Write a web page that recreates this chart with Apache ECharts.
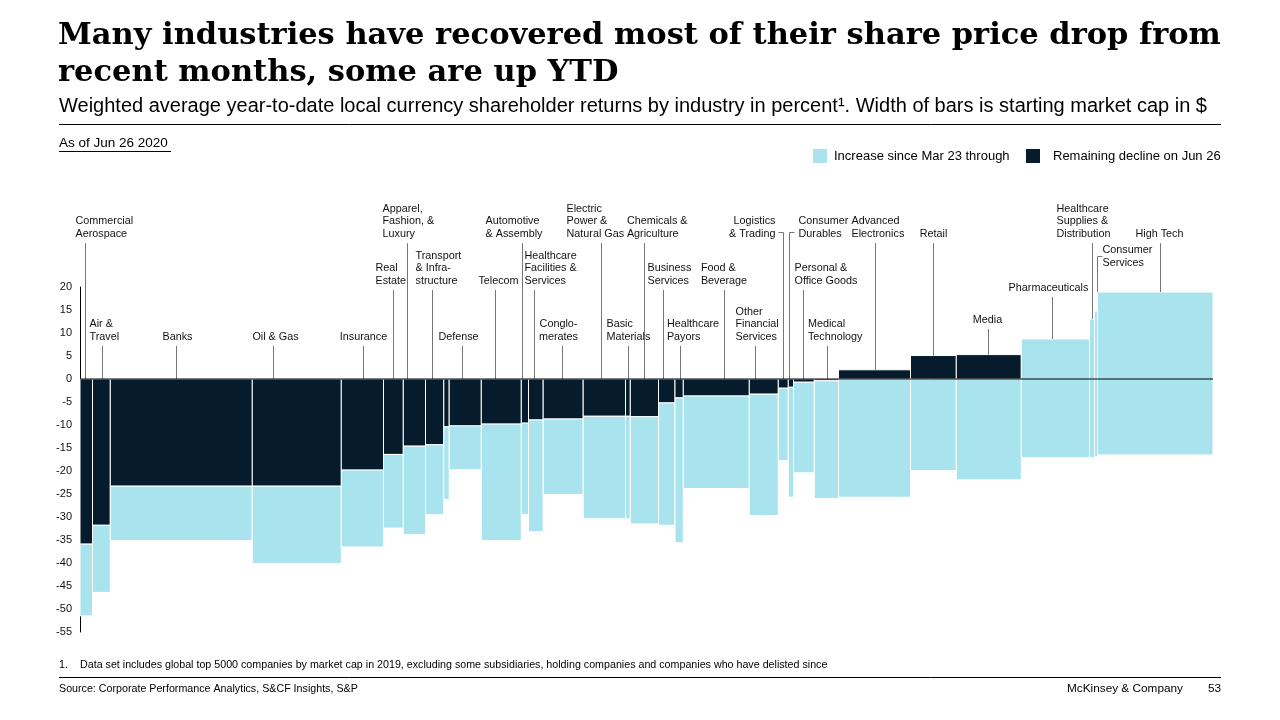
<!DOCTYPE html>
<html>
<head>
<meta charset="utf-8">
<script src="https://cdn.jsdelivr.net/npm/echarts@6/dist/echarts.min.js"></script>
<style>
html,body{margin:0;padding:0;background:#fff;}
#chart{width:1280px;height:720px;}
</style>
</head>
<body>
<div id="chart"></div>
<script>
// ---------------- DATA ----------------
const categories = [
  'Commercial\nAerospace','Air &\nTravel','Banks','Oil & Gas','Insurance','Real\nEstate',
  'Apparel,\nFashion, &\nLuxury','Transport\n& Infra-\nstructure','','Defense','Telecom',
  'Automotive\n& Assembly','Healthcare\nFacilities &\nServices','Conglo-\nmerates',
  'Electric\nPower &\nNatural Gas','Basic\nMaterials','Chemicals &\nAgriculture',
  'Business\nServices','Healthcare\nPayors','Food &\nBeverage','Other\nFinancial\nServices',
  'Logistics\n& Trading','Consumer\nDurables','Personal &\nOffice Goods','Medical\nTechnology',
  'Advanced\nElectronics','Retail','Media','Pharmaceuticals',
  'Healthcare\nSupplies &\nDistribution','Consumer\nServices','High Tech'
];
// starting market cap (relative width of bars)
const marketCap = [12.5,17.8,142,89,42.2,19.8,22.2,18.3,5.4,32.1,40,7.2,14.7,40,42.3,4.8,28.2,16.5,8.3,66,29,10,5.2,20.8,24.2,72,45.8,65,68.2,5,3,115.5];
// YTD shareholder return on Jun 26 (%)
const returnJun26 = [-35.9,-31.8,-23.3,-23.3,-19.8,-16.4,-14.6,-14.3,-10.4,-10.2,-9.8,-9.6,-8.9,-8.7,-8.1,-8.1,-8.2,-5.2,-4.1,-3.7,-3.3,-2.0,-1.8,-0.7,-0.4,2.0,5.1,5.3,8.7,13.0,14.8,18.9];
// YTD shareholder return at the Mar 23 low (%)
const returnMar23 = [-51.5,-46.4,-35.1,-40.1,-36.5,-32.4,-33.8,-29.5,-26.2,-19.7,-35.1,-29.5,-33.2,-25.1,-30.4,-30.4,-31.5,-31.8,-35.6,-23.8,-29.7,-17.7,-25.7,-20.4,-26.0,-25.7,-19.9,-21.9,-17.1,-17.1,-16.9,-16.5];
const yTickLabels = ['20','15','10','5','0','-5','-10','-15','-20','-25','-30','-35','-40','-45','-50','-55'];

// ---------------- LAYOUT / STYLE ----------------
const DARK = '#061c2c', LIGHT = '#a9e4ee';
const darkAbove = categories.map((c,i)=> i===25||i===26||i===27);
// label layout: row = y (axis units) of last text line, frac = leader position within bar, dx = text offset (px)
const rA = 9.13, rB = 21.3, rC = 31.5;
const labelLayout = [
  {row:rC,frac:0.42,dx:-10,align:'left'},
  {row:rA,frac:0.55,dx:-13,align:'left'},
  {row:rA,frac:0.46,dx:1,align:'center'},
  {row:rA,frac:0.236,dx:2,align:'center'},
  {row:rA,frac:0.52,dx:0,align:'center'},
  {row:rB,frac:0.48,dx:-18,align:'left'},
  {row:rC,frac:0.17,dx:-25,align:'left'},
  {row:rB,frac:0.37,dx:-17,align:'left'},
  null,
  {row:rA,frac:0.41,dx:-4,align:'center'},
  {row:rB,frac:0.33,dx:3,align:'center'},
  {row:rC,frac:0.05,dx:-37,align:'left'},
  {row:rB,frac:0.37,dx:-10,align:'left'},
  {row:rA,frac:0.48,dx:-4,align:'center'},
  {row:rC,frac:0.41,dx:-35,align:'left'},
  {row:rA,frac:0.58,dx:-22,align:'left'},
  {row:rC,frac:0.5,dx:-17.6,align:'left'},
  {row:rB,frac:0.29,dx:-16,align:'left'},
  {row:rA,frac:0.64,dx:-13.6,align:'left'},
  {row:rB,frac:0.62,dx:-23.6,align:'left'},
  {row:rA,frac:0.21,dx:-20,align:'left'},
  {row:rC,frac:0.44,dx:-8,align:'right',bracket:'left',bdy:-2},
  {row:rC,frac:0.19,dx:9,align:'left',bracket:'right',bdy:-2},
  {row:rB,frac:0.47,dx:-9,align:'left'},
  {row:rA,frac:0.54,dx:-19.6,align:'left'},
  {row:rC,frac:0.5,dx:-24,align:'left'},
  {row:rC,frac:0.5,dx:0,align:'center'},
  {row:12.8,frac:0.49,dx:-1,align:'center'},
  {row:19.8,frac:0.45,dx:-4,align:'center'},
  {row:rC,frac:0.44,dx:-36,align:'left'},
  {row:25.2,frac:0.73,dx:5,align:'left',bracket:'right',bdy:-7},
  {row:rC,frac:0.54,dx:-1,align:'center'}
];

// ---------------- BUILD ----------------
const starts = [];
let acc = 0;
marketCap.forEach(w => { starts.push(acc); acc += w; });
const total = acc;
const barData = categories.map((c,i)=>[starts[i], starts[i]+marketCap[i], returnJun26[i], returnMar23[i], i]);

const FONT = '"Liberation Sans", Arial, Helvetica, sans-serif';
const LH = 12.7;

function renderItem(params, api){
  const i = api.value(4);
  const s = api.value(0), e = api.value(1), cur = api.value(2), low = api.value(3);
  const xa = api.coord([s,0])[0], xb = api.coord([e,0])[0];
  const y = v => api.coord([s,v])[1];
  const children = [];
  const rect = (v1,v2,fill)=>{
    const ya = y(Math.max(v1,v2)), yb = y(Math.min(v1,v2));
    children.push({type:'rect', shape:{x:xa,y:ya,width:xb-xa,height:yb-ya},
      style:{fill:fill, stroke:'#fff', lineWidth:1}});
  };
  if (cur < 0) { rect(0,cur,DARK); rect(cur,low,LIGHT); }
  else if (darkAbove[i]) { rect(0,low,LIGHT); rect(0,cur,DARK); }
  else { rect(low,cur,LIGHT); }

  const L = labelLayout[i];
  if (L && categories[i]) {
    const lx = Math.round(xa + (xb-xa)*L.frac) + 0.5;
    const lastY = y(L.row);
    const barTop = cur > 0 ? y(cur) : y(0);
    let topY;
    if (L.bracket) {
      topY = Math.round(lastY + L.bdy) + 0.5;
      const hx2 = L.bracket === 'left' ? lx - 5 : lx + 5;
      children.push({type:'line', shape:{x1:lx,y1:topY,x2:hx2,y2:topY}, style:{stroke:'#777',lineWidth:1}});
    } else {
      topY = lastY + 9;
    }
    children.push({type:'line', shape:{x1:lx,y1:topY,x2:lx,y2:barTop}, style:{stroke:'#777',lineWidth:1}});
    children.push({type:'text', x: lx + L.dx, y: lastY + LH/2,
      style:{text:categories[i], fill:'#111', font:'10.8px ' + FONT, align:L.align, verticalAlign:'bottom', lineHeight:LH}});
  }
  return {type:'group', children};
}

const chart = echarts.init(document.getElementById('chart'), null, {renderer:'canvas'});
chart.setOption({
  animation:false,
  backgroundColor:'#fff',
  grid:{left:80,right:67,top:287,bottom:88},
  xAxis:{type:'value', min:0, max:total, show:false},
  yAxis:{type:'value', min:-55, max:20, interval:5,
    axisLine:{show:true, onZero:false, lineStyle:{color:'#000',width:1}},
    axisTick:{show:false}, splitLine:{show:false},
    axisLabel:{color:'#111', fontSize:11, fontFamily:FONT, margin:8,
      formatter:(v)=> yTickLabels[yTickLabels.indexOf(String(v))] || String(v)}},
  series:[
    {type:'custom', renderItem, data:barData, clip:false, z:2,
      encode:{x:[0,1], y:[2,3]}},
    {type:'line', data:[[0,0],[total,0]], symbol:'none', silent:true, z:5,
      lineStyle:{color:'#000',width:1}}
  ],
  graphic:[
    {type:'text', x:58, y:18, style:{text:'Many industries have recovered most of their share price drop from\nrecent months, some are up YTD',
      font:'bold 30.5px "DejaVu Serif", Georgia, serif', fill:'#000', lineHeight:37, verticalAlign:'top'}},
    {type:'text', x:59, y:106, style:{text:'Weighted average year-to-date local currency shareholder returns by industry in percent¹. Width of bars is starting market cap in $',
      font:'20px ' + FONT, fill:'#000', verticalAlign:'middle'}},
    {type:'line', shape:{x1:59,y1:124.5,x2:1221,y2:124.5}, style:{stroke:'#000',lineWidth:1}},
    {type:'text', x:59, y:143, style:{text:'As of Jun 26 2020', font:'13.5px ' + FONT, fill:'#000', verticalAlign:'middle'}},
    {type:'line', shape:{x1:59,y1:151.5,x2:171,y2:151.5}, style:{stroke:'#000',lineWidth:1}},
    {type:'rect', shape:{x:813,y:149,width:14,height:14}, style:{fill:LIGHT}},
    {type:'text', x:834, y:156, style:{text:'Increase since Mar 23 through', font:'13px ' + FONT, fill:'#000', verticalAlign:'middle'}},
    {type:'rect', shape:{x:1026,y:149,width:14,height:14}, style:{fill:DARK}},
    {type:'text', x:1053, y:156, style:{text:'Remaining decline on Jun 26', font:'13px ' + FONT, fill:'#000', verticalAlign:'middle'}},
    {type:'text', x:59, y:665, style:{text:'1.', font:'10.7px ' + FONT, fill:'#000', verticalAlign:'middle'}},
    {type:'text', x:80, y:665, style:{text:'Data set includes global top 5000 companies by market cap in 2019, excluding some subsidiaries, holding companies and companies who have delisted since', font:'10.7px ' + FONT, fill:'#000', verticalAlign:'middle'}},
    {type:'line', shape:{x1:59,y1:677.5,x2:1221,y2:677.5}, style:{stroke:'#000',lineWidth:1}},
    {type:'text', x:59, y:689, style:{text:'Source: Corporate Performance Analytics, S&CF Insights, S&P', font:'10.7px ' + FONT, fill:'#000', verticalAlign:'middle'}},
    {type:'text', x:1183, y:689, style:{text:'McKinsey & Company', font:'11.8px ' + FONT, fill:'#000', align:'right', verticalAlign:'middle'}},
    {type:'text', x:1221, y:689, style:{text:'53', font:'11.8px ' + FONT, fill:'#000', align:'right', verticalAlign:'middle'}}
  ]
});
</script>
</body>
</html>
